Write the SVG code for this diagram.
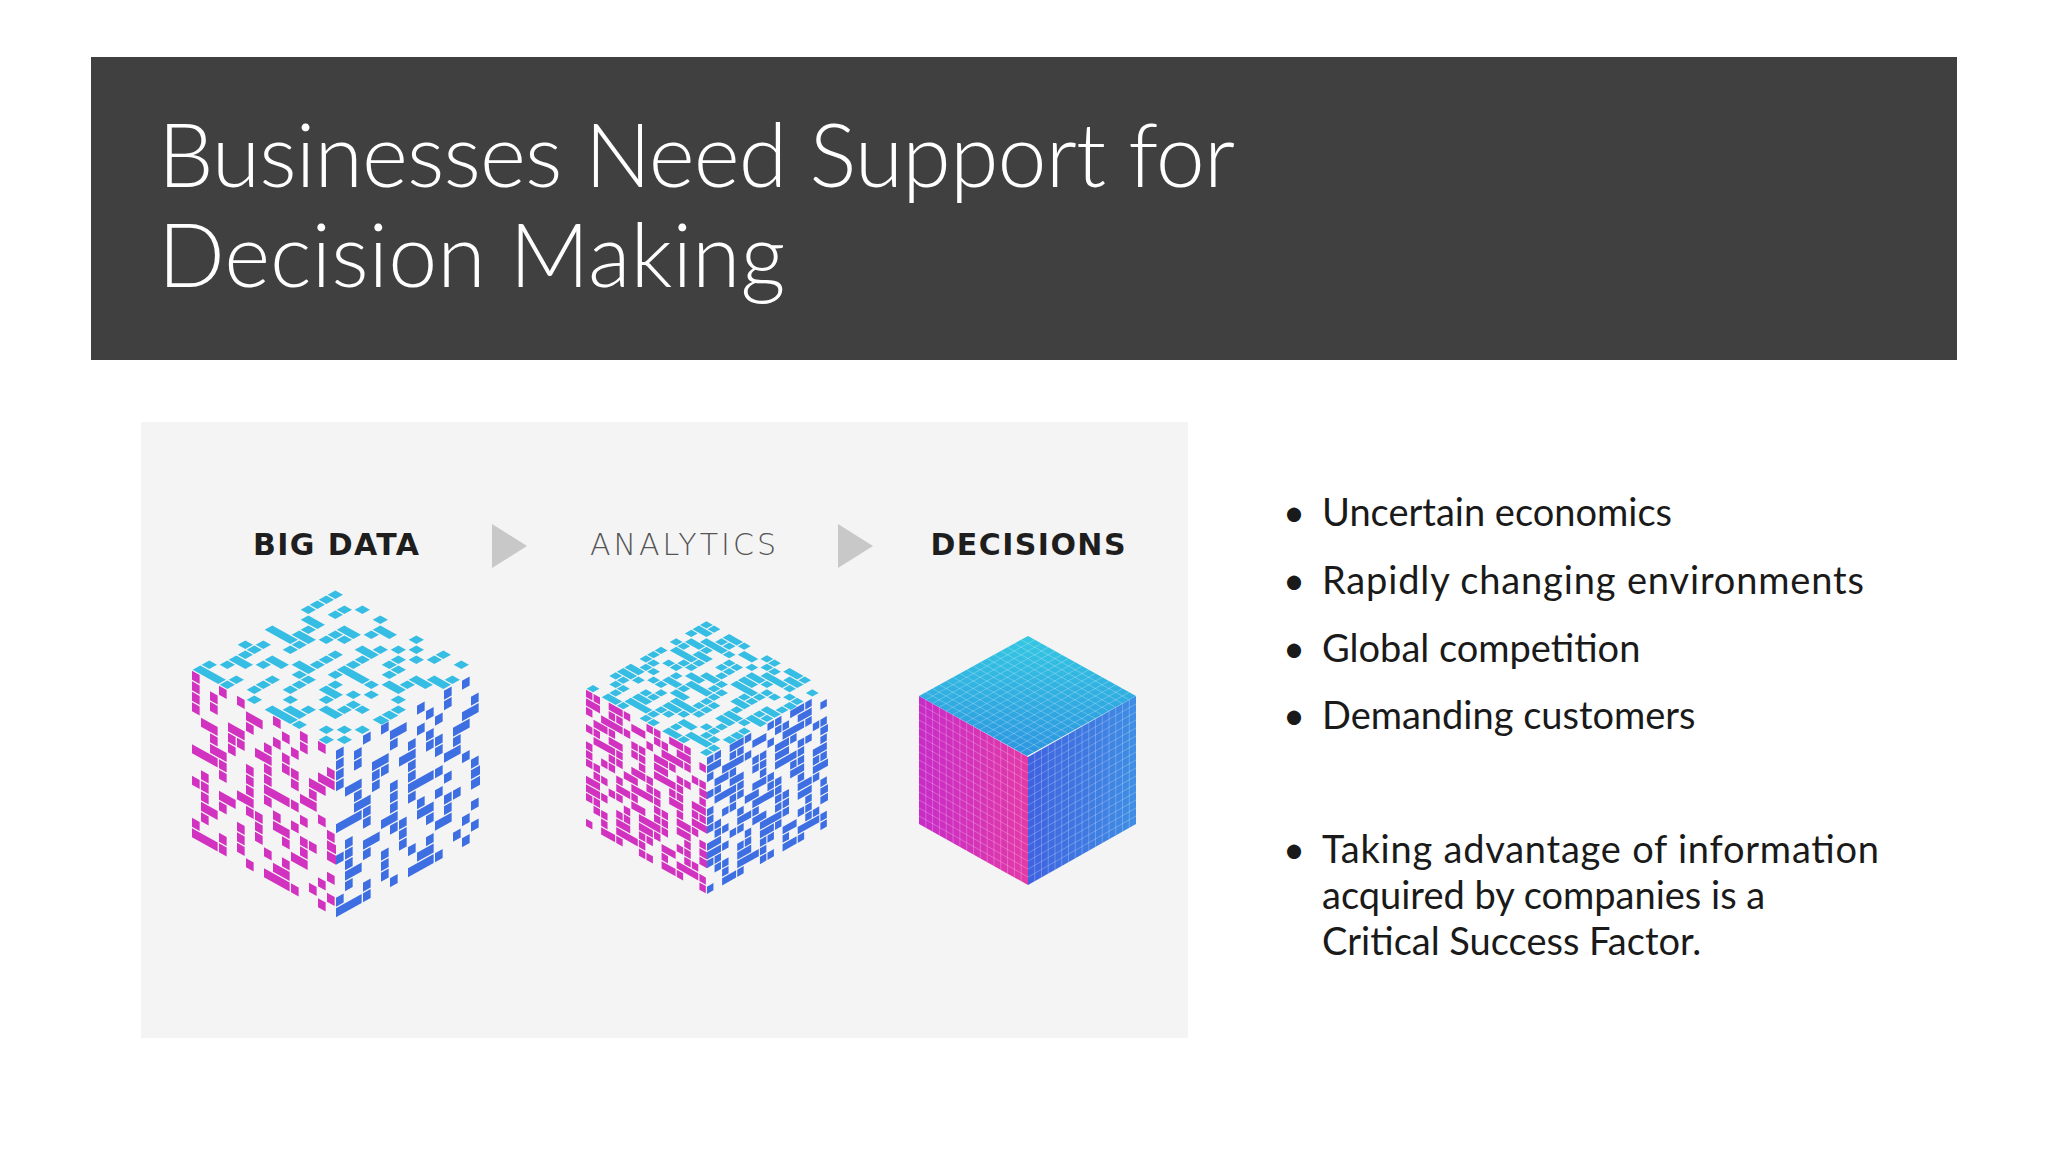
<svg xmlns="http://www.w3.org/2000/svg" width="2048" height="1152" viewBox="0 0 2048 1152">
<defs>
<linearGradient id="gm" x1="0" y1="0" x2="1" y2="0"><stop offset="0" stop-color="#c82cc8"/><stop offset="1" stop-color="#e23aa8"/></linearGradient>
<linearGradient id="gb" x1="0" y1="0" x2="1" y2="0"><stop offset="0" stop-color="#3f62e0"/><stop offset="1" stop-color="#3f8ee4"/></linearGradient>
<linearGradient id="gt" x1="0" y1="0" x2="1" y2="1"><stop offset="0" stop-color="#35c8e2"/><stop offset="1" stop-color="#2d95e0"/></linearGradient>
<g id="grid">
<path d="M0 1H16M0 2H16M0 3H16M0 4H16M0 5H16M0 6H16M0 7H16M0 8H16M0 9H16M0 10H16M0 11H16M0 12H16M0 13H16M0 14H16M0 15H16M1 0V16M2 0V16M3 0V16M4 0V16M5 0V16M6 0V16M7 0V16M8 0V16M9 0V16M10 0V16M11 0V16M12 0V16M13 0V16M14 0V16M15 0V16" stroke="#ffffff" stroke-opacity="0.35" stroke-width="0.7" vector-effect="non-scaling-stroke" fill="none"/>
</g>
<g id="scat">
<path class="a" d="M0 0.5H16"/><path class="b" d="M0 1.5H16"/><path class="c" d="M0 2.5H16"/><path class="a" d="M0 3.5H16" stroke-dashoffset="2"/><path class="b" d="M0 4.5H16" stroke-dashoffset="3"/><path class="c" d="M0 5.5H16" stroke-dashoffset="1"/><path class="a" d="M0 6.5H16" stroke-dashoffset="5"/><path class="b" d="M0 7.5H16" stroke-dashoffset="1"/><path class="c" d="M0 8.5H16" stroke-dashoffset="4"/><path class="a" d="M0 9.5H16" stroke-dashoffset="7"/><path class="b" d="M0 10.5H16" stroke-dashoffset="6"/><path class="c" d="M0 11.5H16" stroke-dashoffset="3"/><path class="a" d="M0 12.5H16" stroke-dashoffset="4"/><path class="b" d="M0 13.5H16" stroke-dashoffset="2"/><path class="c" d="M0 14.5H16" stroke-dashoffset="6"/><path class="a" d="M0 15.5H16" stroke-dashoffset="1"/>
</g>
<g id="sparse">
<path class="d" d="M0 0.5H16"/><path class="e" d="M0 1.5H16"/><path class="d" d="M0 2.5H16" stroke-dashoffset="3"/><path class="e" d="M0 3.5H16" stroke-dashoffset="2"/><path class="b" d="M0 4.5H16" stroke-dashoffset="5"/><path class="d" d="M0 5.5H16" stroke-dashoffset="1"/><path class="e" d="M0 6.5H16" stroke-dashoffset="4"/><path class="c" d="M0 7.5H16" stroke-dashoffset="2"/><path class="d" d="M0 8.5H16" stroke-dashoffset="6"/><path class="e" d="M0 9.5H16" stroke-dashoffset="1"/><path class="b" d="M0 10.5H16" stroke-dashoffset="3"/><path class="d" d="M0 11.5H16" stroke-dashoffset="2"/><path class="e" d="M0 12.5H16" stroke-dashoffset="5"/><path class="d" d="M0 13.5H16" stroke-dashoffset="4"/><path class="e" d="M0 14.5H16" stroke-dashoffset="7"/><path class="c" d="M0 15.5H16" stroke-dashoffset="2"/>
</g>
</defs>
<style>
.a,.b,.c,.d,.e{stroke-width:0.85;fill:none}
.a{stroke-dasharray:0.85 0.15 0.85 1.15 1.85 0.15 0.85 2.15}
.b{stroke-dasharray:1.85 1.15 0.85 0.15 0.85 1.15}
.c{stroke-dasharray:0.85 1.15 2.85 0.15 0.85 2.15}
.d{stroke-dasharray:0.85 2.15 0.85 1.15 0.85 3.15}
.e{stroke-dasharray:0.85 1.15 0.85 3.15 1.85 2.15}
.m{stroke:#d232c0}.bl{stroke:#3d6ee2}.cy{stroke:#36bde4}
.bul{font-family:Lato,"Liberation Sans",sans-serif;font-size:38px;fill:#1a1a1a}
.lab{font-family:"DejaVu Sans",sans-serif;font-size:30px}
</style>
<rect width="2048" height="1152" fill="#ffffff"/>
<g id="header">
<rect x="91" y="57" width="1866" height="303" fill="#404040"/>
<text x="158" y="187" font-family="Lato,'Open Sans',sans-serif" font-weight="300" font-size="88" fill="#ffffff" textLength="1077">Businesses Need Support for</text>
<text x="158" y="287" font-family="Lato,'Open Sans',sans-serif" font-weight="300" font-size="88" fill="#ffffff">Decision Making</text>
</g>
<g id="picture">
<rect x="141" y="422" width="1047" height="616" fill="#f4f4f4"/>
<text class="lab" x="336" y="555" text-anchor="middle" font-weight="bold" fill="#1e1e1e" textLength="166">BIG DATA</text>
<text class="lab" x="683" y="555" text-anchor="middle" fill="#555" font-weight="200" textLength="186">ANALYTICS</text>
<text class="lab" x="1028" y="555" text-anchor="middle" font-weight="bold" fill="#1e1e1e" textLength="195">DECISIONS</text>
<polygon points="492,524 527,546 492,568" fill="#c8c8c8"/>
<polygon points="838,524 873,546 838,568" fill="#c8c8c8"/>
<g transform="matrix(6.8125,3.8125,0,8,919,696)"><rect width="16" height="16" fill="url(#gm)"/><use href="#grid"/></g>
<g transform="matrix(6.75,-3.8125,0,8,1028,757)"><rect width="16" height="16" fill="url(#gb)"/><use href="#grid"/></g>
<g transform="matrix(6.75,3.75,-6.8125,3.75,1028,636)"><rect width="16" height="16" fill="url(#gt)"/><use href="#grid"/></g>
<g class="m" transform="matrix(7.56,4.25,0,8.6,586,689)"><use href="#scat"/></g>
<g class="bl" transform="matrix(7.56,-4.25,0,8.6,707,757)"><use href="#scat"/></g>
<g class="cy" transform="matrix(7.56,4.25,-7.56,4.25,707,621)"><use href="#scat"/></g>
<g class="m" transform="matrix(9,5,0,10.5,192,670)"><use href="#sparse"/></g>
<g class="bl" transform="matrix(9,-5,0,10.5,336,750)"><use href="#sparse"/></g>
<g class="cy" transform="matrix(9,5,-9,5,336,590)"><use href="#sparse"/></g>
</g>
<g id="bullets">
<text class="bul" x="1283" y="526">•</text><text class="bul" x="1322" y="526">Uncertain economics</text>
<text class="bul" x="1283" y="594">•</text><text class="bul" x="1322" y="594" textLength="542">Rapidly changing environments</text>
<text class="bul" x="1283" y="662">•</text><text class="bul" x="1322" y="662">Global competition</text>
<text class="bul" x="1283" y="729">•</text><text class="bul" x="1322" y="729">Demanding customers</text>
<text class="bul" x="1283" y="863">•</text><text class="bul" x="1322" y="863" textLength="557">Taking advantage of information</text>
<text class="bul" x="1322" y="909">acquired by companies is a</text>
<text class="bul" x="1322" y="955">Critical Success Factor.</text>
</g>
</svg>
